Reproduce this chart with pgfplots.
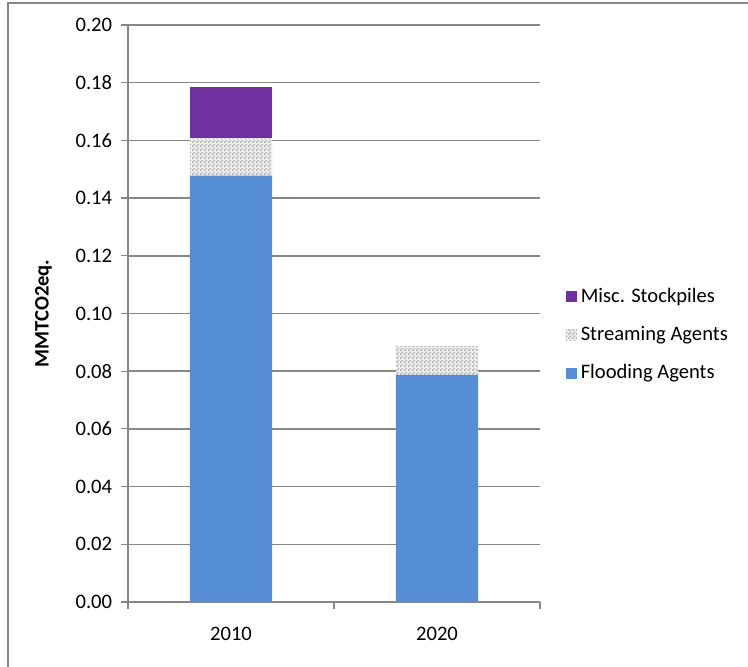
\documentclass[border=0pt]{standalone}
\usepackage{pgfplots}
\pgfplotsset{compat=1.18}
\usepackage{fontspec}
\setmainfont{Carlito}
\usetikzlibrary{patterns}
\definecolor{flood}{RGB}{85,142,213}
\definecolor{misc}{RGB}{112,48,160}
\definecolor{axgray}{RGB}{134,134,134}
\pgfdeclarepatternformonly{finecheck}{\pgfpointorigin}{\pgfqpoint{2pt}{2pt}}{\pgfqpoint{2pt}{2pt}}{%
  \pgfpathrectangle{\pgfpointorigin}{\pgfqpoint{1pt}{1pt}}%
  \pgfpathrectangle{\pgfqpoint{1pt}{1pt}}{\pgfqpoint{1pt}{1pt}}%
  \pgfusepath{fill}}
\begin{document}
\fontsize{10.3pt}{12pt}\selectfont
\begin{tikzpicture}
\useasboundingbox (0,0) rectangle (374pt,333.5pt);
\draw[axgray, line width=0.6pt] (4pt,0) -- (4pt,332pt) -- (374pt,332pt);
\begin{axis}[
  at={(64pt,32.5pt)}, anchor=south west,
  scale only axis, width=206pt, height=288.5pt,
  ybar stacked, bar width=0.4,
  xmin=-0.5, xmax=1.5, ymin=0, ymax=0.20,
  axis x line*=bottom, axis y line*=left,
  axis line style={axgray, line width=0.6pt},
  xtick={-0.5,0.5,1.5}, xticklabels={},
  extra x ticks={0,1}, extra x tick labels={2010,2020},
  extra x tick style={major tick length=0pt, xticklabel style={yshift=-9pt}},
  x axis line style={-},
  y axis line style={-},
  ytick={0,0.02,...,0.201},
  yticklabel style={/pgf/number format/.cd, fixed, fixed zerofill, precision=2, /tikz/.cd, xshift=-0.8pt},
  /pgf/number format/assume math mode=true,
  tick align=outside, major tick length=3.5pt,
  tick style={axgray, line width=0.6pt},
  ymajorgrids, grid style={axgray, line width=0.75pt},
  ylabel={\bfseries MMTCO2eq.},
  ylabel style={at={(axis description cs:-0.205,0.5)}, anchor=center},
  legend style={draw=none, at={(1.047,0.463)}, anchor=west, fill=none,
    row sep=6.5pt, font=\fontsize{10.3pt}{12pt}\selectfont},
  legend cell align=left,
  reverse legend,
  legend image code/.code={\fill[#1] (0pt,-2.75pt) rectangle (5.5pt,2.75pt);},
]
\addplot[fill=flood, draw=none] coordinates {(0,0.1478) (1,0.0787)};
\addlegendentry{Flooding Agents}
\addplot[draw=none, preaction={fill=black!6}, pattern=finecheck, pattern color=black!30] coordinates {(0,0.0129) (1,0.0100)};
\addlegendentry{Streaming Agents}
\addplot[fill=misc, draw=none] coordinates {(0,0.0178) (1,0)};
\addlegendentry{Misc. Stockpiles}
\end{axis}
\end{tikzpicture}
\end{document}
